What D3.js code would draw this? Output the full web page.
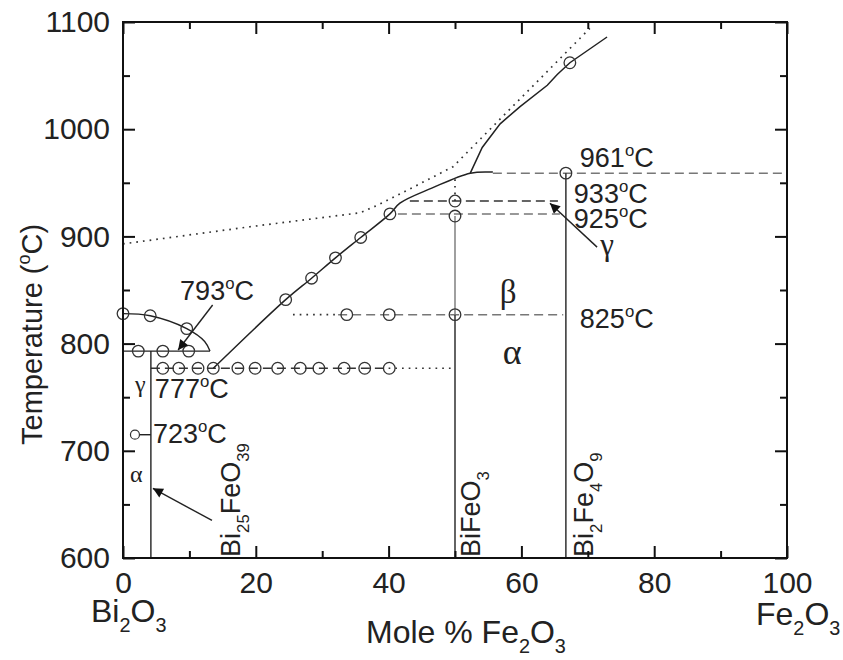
<!DOCTYPE html>
<html>
<head>
<meta charset="utf-8">
<script src="https://cdn.jsdelivr.net/npm/d3@7"></script>
<style>
  body { margin: 0; background: #fff; }
</style>
</head>
<body>
<div id="chart"></div>
<script>
const WIDTH = 843, HEIGHT = 660;
const MARGIN = { left: 123, right: 56, top: 22, bottom: 102 };

// axis ticks
const xMajor = [0, 20, 40, 60, 80, 100];
const xMinor = [10, 30, 50, 70, 90];
const yMajor = [600, 700, 800, 900, 1000, 1100];
const yMinor = [650, 750, 850, 950, 1050];

// phase boundaries [mol% Fe2O3, T]
const liquidusLow = [[13.6, 777], [24.5, 841], [28.4, 861], [32, 880], [35.8, 899], [40.2, 921], [41.7, 931], [46.5, 945], [52.3, 959], [55.7, 960]];
const liquidusHigh = [[52.3, 959], [54.1, 983], [56.8, 1005], [59.8, 1021], [63.9, 1041], [65.4, 1051], [67.3, 1062], [72.9, 1086]];
const liquidusOld = [[0, 893], [19.1, 909], [35.7, 922], [38.3, 929], [42.8, 943], [49.7, 965], [70.3, 1094]];
const gammaArc = [[0, 828], [4.1, 826], [9.6, 814], [12.3, 802], [13.1, 793]];

// horizontal lines: [x1, x2, T, style]
const hLines = [
  [0, 13.1, 793, "solid"],
  [1.8, 4.2, 715, "solid"],
  [4.2, 40, 777, "dash"],
  [40, 50, 777, "dot"],
  [25.6, 32.4, 827, "dot"],
  [32.4, 66.3, 827, "dashGray"],
  [43.2, 65.5, 933, "dash"],
  [41.4, 65.8, 921, "dashGray"],
  [55.7, 100, 959, "dashGray"]
];
// vertical lines: [x, T1, T2, style]
const vLines = [
  [4.2, 600, 793, "solid"],
  [50, 600, 827, "solid"],
  [50, 827, 919, "solidGray"],
  [50, 933, 958, "dot"],
  [66.7, 600, 959, "solid"]
];

// measured points
const ptsArc = [[0, 828], [4.1, 826], [9.6, 814]];
const pts793 = [[2.3, 793], [6, 793], [9.9, 793]];
const pts777x = [6.0, 8.4, 11.3, 13.6, 17.3, 19.9, 23.3, 26.7, 29.5, 33.3, 36.4, 40.1];
const ptsLiq = [[24.5, 841], [28.4, 861], [32, 880], [35.8, 899], [40.2, 921], [67.3, 1062]];
const pts825 = [[33.7, 827], [40.1, 827], [50, 827]];
const ptsBiFeO3 = [[50, 933], [50, 919], [66.7, 959]];
const pts723 = [[1.8, 715]];

// temperature labels
const tempLabels = [
  { x: 8.6, t: 841, v: "793" },
  { x: 4.8, t: 749, v: "777" },
  { x: 4.5, t: 707, v: "723" },
  { x: 68.8, t: 965, v: "961" },
  { x: 67.9, t: 931, v: "933" },
  { x: 67.9, t: 908, v: "925" },
  { x: 68.8, t: 815, v: "825" }
];
const phaseLabels = [
  { x: 2.6, t: 755, v: "γ", size: 24 },
  { x: 2.0, t: 671, v: "α", size: 24 },
  { x: 58.0, t: 838, v: "β", size: 33 },
  { x: 58.6, t: 781, v: "α", size: 36 },
  { x: 72.9, t: 883, v: "γ", size: 31 }
];
const compounds = [
  { x: 17.6, t: 601, parts: [["Bi"], ["25", "sub"], ["FeO"], ["39", "sub"]] },
  { x: 53.8, t: 601, parts: [["BiFeO"], ["3", "sub"]] },
  { x: 70.8, t: 601, parts: [["Bi"], ["2", "sub"], ["Fe"], ["4", "sub"], ["O"], ["9", "sub"]] }
];
// arrows: [x1, T1, x2, T2]
const arrows = [
  [13.5, 836, 8.3, 794],
  [13.4, 635, 4.5, 665],
  [71.4, 890, 64.3, 931]
];

const FONT = "'Liberation Sans', Arial, Helvetica, sans-serif";
const SERIF = "'Liberation Serif', 'Times New Roman', serif";

const svg = d3.select("#chart")
  .append("svg")
  .attr("width", WIDTH)
  .attr("height", HEIGHT)
  .attr("font-family", FONT);

svg.append("rect").attr("width", WIDTH).attr("height", HEIGHT).attr("fill", "#fff");

const x = d3.scaleLinear().domain([0, 100]).range([MARGIN.left, WIDTH - MARGIN.right]);
const y = d3.scaleLinear().domain([600, 1100]).range([HEIGHT - MARGIN.bottom, MARGIN.top]);

// rich text helper (sub / superscripts)
function rich(sel, parts, fs) {
  let shift = 0;
  parts.forEach(([txt, kind]) => {
    const small = kind === "sub" || kind === "sup";
    const target = kind === "sub" ? fs * 0.32 : kind === "sup" ? -fs * 0.4 : 0;
    sel.append("tspan")
      .attr("font-size", small ? fs * 0.62 : fs)
      .attr("dy", target - shift)
      .text(txt);
    shift = target;
  });
}

// arrow head
svg.append("defs").append("marker")
  .attr("id", "head")
  .attr("viewBox", "0 0 10 10")
  .attr("refX", 10).attr("refY", 5)
  .attr("markerWidth", 14).attr("markerHeight", 10)
  .attr("markerUnits", "userSpaceOnUse")
  .attr("orient", "auto")
  .append("path")
  .attr("d", "M0,0L10,5L0,10z")
  .attr("fill", "#111");

const styles = {
  solid: { stroke: "#222", width: 1.4, dash: null },
  solidGray: { stroke: "#777", width: 1.4, dash: null },
  dash: { stroke: "#333", width: 1.5, dash: "9,5" },
  dashGray: { stroke: "#777", width: 1.5, dash: "9,5" },
  dot: { stroke: "#333", width: 1.7, dash: "1.7,5" }
};

function seg(x1, y1, x2, y2, st) {
  const s = styles[st];
  svg.append("line")
    .attr("x1", x1).attr("y1", y1).attr("x2", x2).attr("y2", y2)
    .attr("stroke", s.stroke)
    .attr("stroke-width", s.width)
    .attr("stroke-dasharray", s.dash);
}

hLines.forEach(([a, b, t, st]) => seg(x(a), y(t), x(b), y(t), st));
vLines.forEach(([v, t1, t2, st]) => seg(x(v), y(t1), x(v), y(t2), st));

// curves
const lineGen = d3.line().x(d => x(d[0])).y(d => y(d[1]));
svg.append("path").datum(liquidusLow)
  .attr("fill", "none").attr("stroke", "#222").attr("stroke-width", 1.5)
  .attr("d", lineGen.curve(d3.curveCatmullRom));
svg.append("path").datum(liquidusHigh)
  .attr("fill", "none").attr("stroke", "#222").attr("stroke-width", 1.5)
  .attr("d", lineGen.curve(d3.curveLinear));
svg.append("path").datum(liquidusOld)
  .attr("fill", "none").attr("stroke", "#333").attr("stroke-width", 1.7)
  .attr("stroke-dasharray", "1.7,5")
  .attr("d", lineGen.curve(d3.curveLinear));
svg.append("path").datum(gammaArc)
  .attr("fill", "none").attr("stroke", "#222").attr("stroke-width", 1.4)
  .attr("d", lineGen.curve(d3.curveCatmullRom));

// points
const allPts = [].concat(ptsArc, pts793, pts777x.map(v => [v, 777]), ptsLiq, pts825, ptsBiFeO3);
svg.append("g")
  .selectAll("circle")
  .data(allPts)
  .enter()
  .append("circle")
  .attr("cx", d => x(d[0]))
  .attr("cy", d => y(d[1]))
  .attr("r", 5.8)
  .attr("fill", "none")
  .attr("stroke", "#333")
  .attr("stroke-width", 1.3);
svg.append("g")
  .selectAll("circle")
  .data(pts723)
  .enter()
  .append("circle")
  .attr("cx", d => x(d[0]))
  .attr("cy", d => y(d[1]))
  .attr("r", 4.5)
  .attr("fill", "#fff")
  .attr("stroke", "#333")
  .attr("stroke-width", 1.2);

// arrows
arrows.forEach(([x1, t1, x2, t2]) => {
  svg.append("line")
    .attr("x1", x(x1)).attr("y1", y(t1))
    .attr("x2", x(x2)).attr("y2", y(t2))
    .attr("stroke", "#222").attr("stroke-width", 1.4)
    .attr("marker-end", "url(#head)");
});

// temperature labels
tempLabels.forEach(d => {
  const t = svg.append("text")
    .attr("x", x(d.x)).attr("y", y(d.t))
    .attr("fill", "#222");
  rich(t, [[d.v], ["o", "sup"], ["C"]], 27);
});

// phase labels
phaseLabels.forEach(d => {
  svg.append("text")
    .attr("x", x(d.x)).attr("y", y(d.t))
    .attr("text-anchor", "middle")
    .attr("font-family", SERIF)
    .attr("font-size", d.size)
    .attr("fill", "#222")
    .text(d.v);
});

// compound labels (vertical)
compounds.forEach(d => {
  const t = svg.append("text")
    .attr("transform", `translate(${x(d.x)},${y(d.t)}) rotate(-90)`)
    .attr("fill", "#222");
  rich(t, d.parts, 27);
});

// axes
const TICK_MAJ = 12, TICK_MIN = 7;
function styleAxis(g) {
  g.select(".domain").remove();
  g.selectAll(".tick line").attr("stroke", "#111").attr("stroke-width", 2);
  g.selectAll(".tick text").attr("fill", "#222").attr("font-size", 30).attr("font-family", FONT);
}
const plotBottom = HEIGHT - MARGIN.bottom, plotRight = WIDTH - MARGIN.right;

svg.append("g").attr("transform", `translate(0,${plotBottom})`)
  .call(d3.axisBottom(x).tickValues(xMajor).tickSizeInner(-TICK_MAJ).tickSizeOuter(0).tickPadding(14).tickFormat(d3.format("d")))
  .call(styleAxis);
svg.append("g").attr("transform", `translate(0,${plotBottom})`)
  .call(d3.axisBottom(x).tickValues(xMinor).tickSizeInner(-TICK_MIN).tickSizeOuter(0).tickFormat(""))
  .call(styleAxis);
svg.append("g").attr("transform", `translate(0,${MARGIN.top})`)
  .call(d3.axisTop(x).tickValues(xMajor).tickSizeInner(-TICK_MAJ).tickSizeOuter(0).tickFormat(""))
  .call(styleAxis);
svg.append("g").attr("transform", `translate(0,${MARGIN.top})`)
  .call(d3.axisTop(x).tickValues(xMinor).tickSizeInner(-TICK_MIN).tickSizeOuter(0).tickFormat(""))
  .call(styleAxis);
svg.append("g").attr("transform", `translate(${MARGIN.left},0)`)
  .call(d3.axisLeft(y).tickValues(yMajor).tickSizeInner(-TICK_MAJ).tickSizeOuter(0).tickPadding(13).tickFormat(d3.format("d")))
  .call(styleAxis);
svg.append("g").attr("transform", `translate(${MARGIN.left},0)`)
  .call(d3.axisLeft(y).tickValues(yMinor).tickSizeInner(-TICK_MIN).tickSizeOuter(0).tickFormat(""))
  .call(styleAxis);
svg.append("g").attr("transform", `translate(${plotRight},0)`)
  .call(d3.axisRight(y).tickValues(yMajor).tickSizeInner(-TICK_MAJ).tickSizeOuter(0).tickFormat(""))
  .call(styleAxis);
svg.append("g").attr("transform", `translate(${plotRight},0)`)
  .call(d3.axisRight(y).tickValues(yMinor).tickSizeInner(-TICK_MIN).tickSizeOuter(0).tickFormat(""))
  .call(styleAxis);

// frame
svg.append("rect")
  .attr("x", MARGIN.left).attr("y", MARGIN.top)
  .attr("width", plotRight - MARGIN.left)
  .attr("height", plotBottom - MARGIN.top)
  .attr("fill", "none")
  .attr("stroke", "#111")
  .attr("stroke-width", 2);

// axis titles
const yTitle = svg.append("text")
  .attr("transform", "translate(42,445) rotate(-90)")
  .attr("fill", "#222");
rich(yTitle, [["Temperature ("], ["o", "sup"], ["C)"]], 29);

const xTitle = svg.append("text")
  .attr("x", 366).attr("y", 643)
  .attr("fill", "#222");
rich(xTitle, [["Mole % Fe"], ["2", "sub"], ["O"], ["3", "sub"]], 32);

const leftEnd = svg.append("text")
  .attr("x", 91).attr("y", 622)
  .attr("fill", "#222");
rich(leftEnd, [["Bi"], ["2", "sub"], ["O"], ["3", "sub"]], 32);

const rightEnd = svg.append("text")
  .attr("x", 756).attr("y", 625)
  .attr("fill", "#222");
rich(rightEnd, [["Fe"], ["2", "sub"], ["O"], ["3", "sub"]], 32);
</script>
</body>
</html>
